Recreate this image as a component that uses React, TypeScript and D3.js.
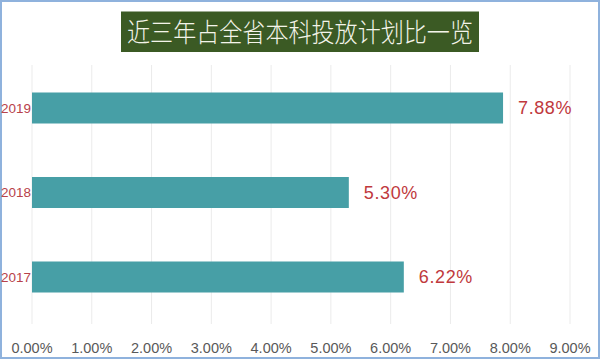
import React from "react";
import * as d3 from "d3";

const title = "近三年占全省本科投放计划比一览";
const years = ["2019", "2018", "2017"];
const values = [7.88, 5.3, 6.22];
const ticks = [0, 1, 2, 3, 4, 5, 6, 7, 8, 9];

const W = 600;
const H = 360;

export default function App() {
  const x = d3.scaleLinear().domain([0, 9]).range([32, 570]);
  const y = d3.scaleBand<string>().domain(years).range([65.75, 319.25]).paddingInner(0.633).paddingOuter(0.3165);
  const fmt = (v: number) => v.toFixed(2) + "%";
  const font = "'Liberation Sans', Arial, sans-serif";
  return (
    <svg width={W} height={H} style={{ position: "absolute", left: 0, top: 0, display: "block" }}>
      <rect x={0} y={0} width={W} height={H} fill="#ffffff" />
      <rect x={1} y={1} width={W - 2} height={H - 3} fill="none" stroke="#8fb2dd" strokeWidth={2} />
      {ticks.map((t) => (
        <line key={"g" + t} x1={x(t)} x2={x(t)} y1={65} y2={324} stroke="#ebebeb" strokeWidth={1} />
      ))}
      {years.map((yr, i) => (
        <rect key={yr} x={x(0)} y={y(yr)!} width={x(values[i]) - x(0)} height={y.bandwidth()} fill="#479fa6" />
      ))}
      {years.map((yr, i) => (
        <text key={"l" + yr} x={x(values[i]) + 15} y={y(yr)! + y.bandwidth() / 2} dy="0.35em" fontFamily={font} fontSize={18} letterSpacing={0.6} fill="#c0393d">
          {fmt(values[i])}
        </text>
      ))}
      {years.map((yr) => (
        <text key={"y" + yr} x={31} y={y(yr)! + y.bandwidth() / 2} dy="0.35em" textAnchor="end" fontFamily={font} fontSize={13.5} fill="#b8424a">
          {yr}
        </text>
      ))}
      {ticks.map((t) => (
        <text key={"t" + t} x={x(t)} y={348} dy="0.35em" textAnchor="middle" fontFamily={font} fontSize={14.5} fill="#595959">
          {fmt(t)}
        </text>
      ))}
      <rect x={121} y={11.5} width={358} height={40.5} fill="#3b5a24" />
      <text x={300} y={32} dy="0.36em" textAnchor="middle" fontFamily="'Noto Sans CJK SC', sans-serif" fontWeight={300} fontSize={26.5} textLength={346} lengthAdjust="spacingAndGlyphs" fill="#f4f4ea">
        {title}
      </text>
    </svg>
  );
}
